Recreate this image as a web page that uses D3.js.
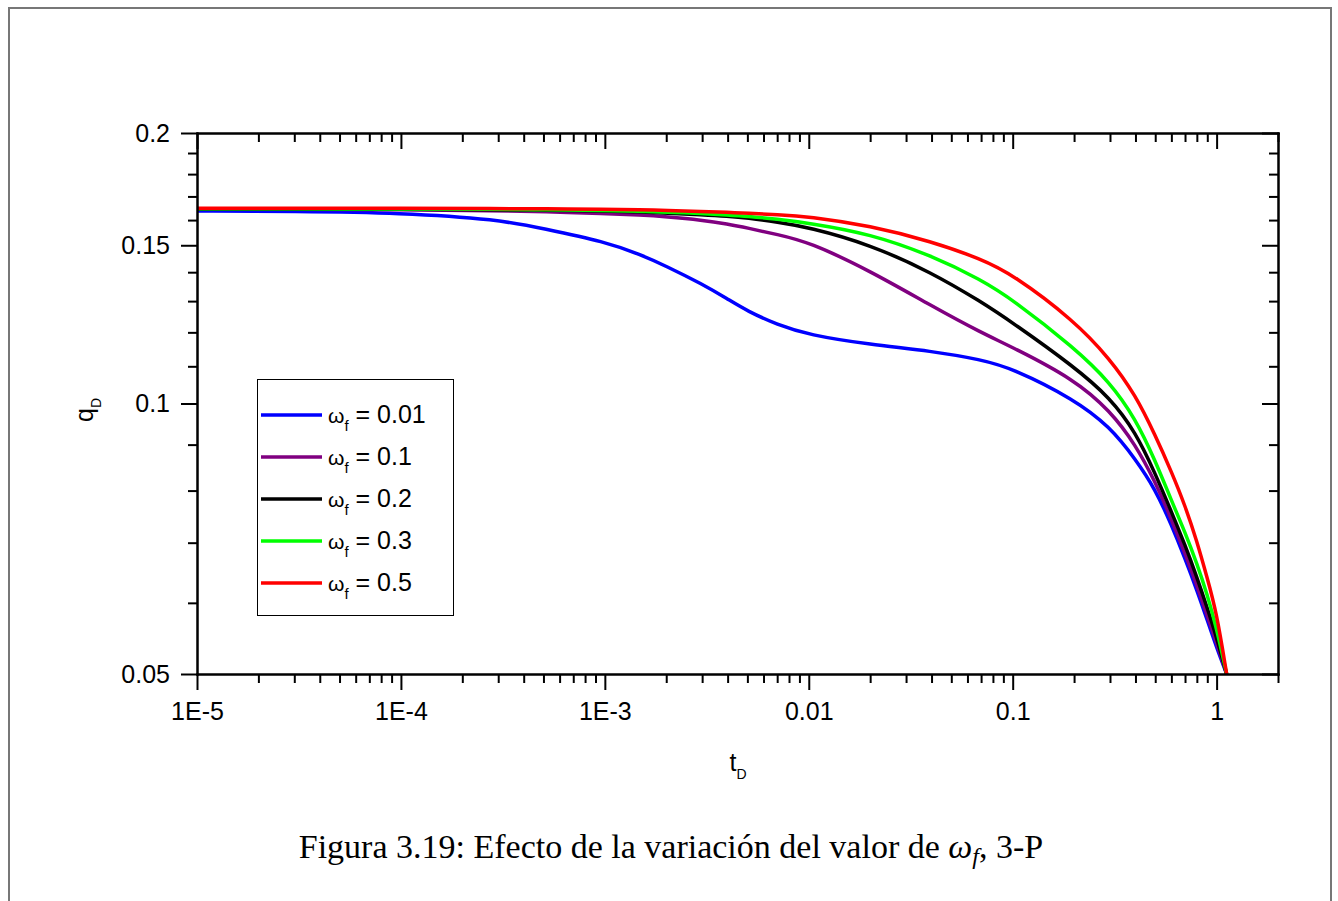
<!DOCTYPE html>
<html lang="es">
<head>
<meta charset="UTF-8">
<title>Figura 3.19</title>
<script src="https://cdnjs.cloudflare.com/ajax/libs/d3/7.8.5/d3.min.js"></script>
<style>
    body { margin: 0; background: #fff; }
    svg { display: block; font-family: "Liberation Sans", Arial, sans-serif; }
    .axis path, .axis line { stroke: #000; stroke-width: 2px; }
    .axis text { font-size: 25px; fill: #000; font-family: "Liberation Sans", Arial, sans-serif; }
    .curve { fill: none; stroke-width: 3.5px; stroke-linejoin: round; }
    .caption { font-family: "Liberation Serif", "Times New Roman", serif; font-size: 34px; }
</style>
</head>
<body>
<svg id="chart" width="1338" height="901"></svg>
<script>
    // dimensionless time t_D (shared by all curves)
    var tD = [1e-5, 3e-5, 1e-4, 3e-4, 5e-4, 1e-3, 1.5e-3, 2e-3, 3e-3, 4e-3, 5e-3, 7e-3,
        0.01, 0.02, 0.04, 0.07, 0.1, 0.2, 0.3, 0.4, 0.5, 0.6, 0.7, 0.8, 0.9, 1.0, 1.12];

    // q_D for each omega_f
    var qW001 = [0.1638, 0.1636, 0.1630, 0.1603, 0.1565, 0.1514, 0.1464, 0.1422, 0.1358, 0.1307, 0.1267, 0.1224,
        0.1192, 0.1163, 0.1144, 0.1119, 0.1094, 0.1011, 0.0942, 0.0867, 0.0803, 0.0733, 0.0672, 0.0620, 0.0574, 0.0535, 0.0500];
    var qW01 = [0.1646, 0.1645, 0.1643, 0.1639, 0.1635, 0.1627, 0.1621, 0.1614, 0.1600, 0.1584, 0.1568, 0.1542,
        0.1513, 0.1405, 0.1284, 0.1199, 0.1155, 0.1064, 0.0982, 0.0900, 0.0818, 0.0744, 0.0681, 0.0628, 0.0580, 0.0542, 0.0500];
    var qW02 = [0.1646, 0.1646, 0.1645, 0.1643, 0.1641, 0.1638, 0.1634, 0.1629, 0.1622, 0.1616, 0.1609, 0.1592,
        0.1571, 0.1503, 0.1399, 0.1298, 0.1230, 0.1099, 0.1015, 0.0930, 0.0836, 0.0758, 0.0696, 0.0641, 0.0592, 0.0549, 0.0500];
    var qW03 = [0.1647, 0.1647, 0.1646, 0.1645, 0.1643, 0.1640, 0.1637, 0.1633, 0.1627, 0.1621, 0.1616, 0.1604,
        0.1588, 0.1545, 0.1461, 0.1373, 0.1305, 0.1154, 0.1056, 0.0962, 0.0864, 0.0780, 0.0719, 0.0664, 0.0613, 0.0562, 0.0500];
    var qW05 = [0.1649, 0.1649, 0.1649, 0.1648, 0.1647, 0.1645, 0.1643, 0.1640, 0.1636, 0.1632, 0.1628, 0.1623,
        0.1615, 0.1577, 0.1515, 0.1448, 0.1392, 0.1237, 0.1121, 0.1022, 0.0922, 0.0840, 0.0770, 0.0703, 0.0639, 0.0585, 0.0500];

    var omegaLabels = ["0.01", "0.1", "0.2", "0.3", "0.5"];
    var colors = ["#0000ff", "#800080", "#000000", "#00ff00", "#ff0000"];

    var xMajor = [1e-5, 1e-4, 1e-3, 0.01, 0.1, 1];
    var xTickLabels = ["1E-5", "1E-4", "1E-3", "0.01", "0.1", "1"];
    var yMajor = [0.05, 0.1, 0.15, 0.2];
    var yTickLabels = ["0.05", "0.1", "0.15", "0.2"];
    var yMinor = [0.06, 0.07, 0.08, 0.09, 0.11, 0.12, 0.13, 0.14, 0.16, 0.17, 0.18, 0.19];

    var series = [qW001, qW01, qW02, qW03, qW05];

    var svg = d3.select("#chart");
    var pLeft = 197, pRight = 1278, pTop = 133, pBottom = 674;

    var x = d3.scaleLog().domain([1e-5, 2]).range([pLeft, pRight]);
    var y = d3.scaleLog().domain([0.05, 0.2]).range([pBottom, pTop]);

    var xMinor = x.ticks().filter(function (d) {
        return xMajor.every(function (m) { return Math.abs(m - d) / m > 1e-6; });
    });

    // page frame
    svg.append("path")
        .attr("d", "M9,905V8H1331V905")
        .attr("fill", "none")
        .attr("stroke", "#777")
        .attr("stroke-width", 2);

    svg.append("clipPath").attr("id", "clip")
        .append("rect")
        .attr("x", pLeft).attr("y", pTop)
        .attr("width", pRight - pLeft).attr("height", pBottom - pTop);

    var line = d3.line()
        .x(function (d) { return x(d[0]); })
        .y(function (d) { return y(d[1]); })
        .curve(d3.curveBasis);

    svg.append("g")
        .attr("clip-path", "url(#clip)")
        .selectAll("path")
        .data(series)
        .enter().append("path")
        .attr("class", "curve")
        .attr("stroke", function (d, i) { return colors[i]; })
        .attr("d", function (q) {
            return line(tD.map(function (t, j) { return [t, q[j]]; }));
        });

    // axes: bottom/left ticks outward, top/right inward
    function fmtX(d) { return xTickLabels[xMajor.indexOf(d)]; }
    function fmtY(d) { return yTickLabels[yMajor.indexOf(d)]; }

    svg.append("g").attr("class", "axis")
        .attr("transform", "translate(0," + pBottom + ")")
        .call(d3.axisBottom(x).tickValues(xMinor).tickSize(9).tickSizeOuter(0).tickFormat(""));
    svg.append("g").attr("class", "axis")
        .attr("transform", "translate(0," + pBottom + ")")
        .call(d3.axisBottom(x).tickValues(xMajor).tickSize(16).tickSizeOuter(0).tickPadding(12).tickFormat(fmtX));

    svg.append("g").attr("class", "axis")
        .attr("transform", "translate(0," + pTop + ")")
        .call(d3.axisBottom(x).tickValues(xMinor).tickSize(9).tickSizeOuter(0).tickFormat(""));
    svg.append("g").attr("class", "axis")
        .attr("transform", "translate(0," + pTop + ")")
        .call(d3.axisBottom(x).tickValues(xMajor).tickSize(16).tickSizeOuter(0).tickFormat(""));

    svg.append("g").attr("class", "axis")
        .attr("transform", "translate(" + pLeft + ",0)")
        .call(d3.axisLeft(y).tickValues(yMinor).tickSize(9).tickSizeOuter(0).tickFormat(""));
    svg.append("g").attr("class", "axis")
        .attr("transform", "translate(" + pLeft + ",0)")
        .call(d3.axisLeft(y).tickValues(yMajor).tickSize(16).tickSizeOuter(0).tickPadding(11).tickFormat(fmtY));

    svg.append("g").attr("class", "axis")
        .attr("transform", "translate(" + pRight + ",0)")
        .call(d3.axisLeft(y).tickValues(yMinor).tickSize(9).tickSizeOuter(0).tickFormat(""));
    svg.append("g").attr("class", "axis")
        .attr("transform", "translate(" + pRight + ",0)")
        .call(d3.axisLeft(y).tickValues(yMajor).tickSize(16).tickSizeOuter(0).tickFormat(""));

    svg.selectAll(".axis .domain").attr("stroke-linecap", "square");

    // axis titles
    var xt = svg.append("text")
        .attr("x", 738).attr("y", 771)
        .attr("text-anchor", "middle")
        .attr("font-size", 25);
    xt.append("tspan").text("t");
    xt.append("tspan").attr("font-size", 14).attr("dy", 8).text("D");

    var yt = svg.append("text")
        .attr("transform", "translate(93,410) rotate(-90)")
        .attr("text-anchor", "middle")
        .attr("font-size", 25);
    yt.append("tspan").text("q");
    yt.append("tspan").attr("font-size", 14).attr("dy", 8).text("D");

    // legend
    var legend = svg.append("g");
    legend.append("rect")
        .attr("x", 257.5).attr("y", 379.5)
        .attr("width", 196).attr("height", 236)
        .attr("fill", "#fff").attr("stroke", "#000").attr("stroke-width", 1);

    var rows = legend.selectAll("g.row")
        .data(omegaLabels)
        .enter().append("g")
        .attr("class", "row")
        .attr("transform", function (d, i) { return "translate(0," + (415 + i * 42) + ")"; });

    rows.append("line")
        .attr("x1", 261).attr("x2", 322)
        .attr("stroke", function (d, i) { return colors[i]; })
        .attr("stroke-width", 3.5);

    var lt = rows.append("text")
        .attr("x", 328).attr("y", 8)
        .attr("font-size", 25);
    lt.append("tspan").attr("font-size", 21).text("\u03c9");
    lt.append("tspan").attr("font-size", 15).attr("dy", 8).text("f");
    lt.append("tspan").attr("dy", -8).text(function (d) { return " = " + d; });

    // caption
    var cap = svg.append("text")
        .attr("class", "caption")
        .attr("x", 671).attr("y", 858)
        .attr("text-anchor", "middle");
    cap.append("tspan").text("Figura 3.19: Efecto de la variaci\u00f3n del valor de ");
    cap.append("tspan").attr("font-style", "italic").text("\u03c9");
    cap.append("tspan").attr("font-style", "italic").attr("font-size", 24).attr("dy", 6).text("f");
    cap.append("tspan").attr("dy", -6).text(", 3-P");
</script>
</body>
</html>
